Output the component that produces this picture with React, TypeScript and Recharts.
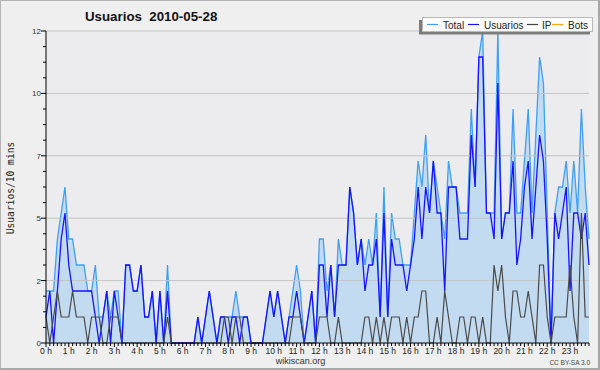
import React from 'react';
import { ComposedChart, Area, Line, XAxis, YAxis, CartesianGrid, ReferenceLine } from 'recharts';

// ---- data (10-minute slots, 2010-05-28) ----
const total = [
  2, 2, 2, 4, 5, 6, 4, 4, 3, 3,
  3, 2, 2, 3, 1, 1, 2, 1, 2, 2,
  0, 3, 3, 2, 2, 3, 1, 1, 2, 0,
  2, 0, 3, 0, 0, 0, 0, 0, 0, 0,
  1, 0, 1, 2, 1, 0, 1, 1, 1, 1,
  2, 1, 1, 1, 0, 0, 0, 0, 1, 2,
  1, 2, 1, 0, 1, 2, 3, 2, 0, 1,
  2, 0, 4, 4, 2, 3, 1, 4, 3, 3,
  6, 5, 3, 4, 3, 4, 3, 5, 1, 6,
  1, 5, 4, 4, 3, 3, 3, 5, 7, 6,
  8, 5, 7, 6, 5, 4, 7, 6, 6, 5,
  5, 5, 9, 6, 11, 12, 5, 5, 5, 12,
  4, 5, 5, 9, 5, 5, 7, 9, 5, 8,
  11, 10, 5, 0, 5, 6, 6, 7, 5, 7,
  5, 9, 6, 4,
];

const usuarios = [
  1, 2, 0, 2, 4, 5, 3, 2, 2, 2,
  2, 2, 2, 1, 0, 1, 2, 0, 2, 1,
  0, 3, 3, 2, 2, 3, 1, 1, 2, 0,
  2, 0, 2, 0, 0, 0, 0, 0, 0, 0,
  1, 0, 1, 2, 1, 0, 1, 1, 0, 1,
  1, 0, 1, 1, 0, 0, 0, 0, 1, 2,
  1, 2, 1, 0, 1, 1, 2, 1, 0, 1,
  2, 0, 3, 3, 1, 3, 1, 3, 3, 3,
  6, 5, 3, 4, 2, 3, 3, 4, 1, 5,
  1, 4, 3, 3, 3, 2, 3, 4, 6, 4,
  6, 5, 7, 5, 5, 2, 6, 6, 6, 4,
  4, 4, 8, 6, 11, 11, 5, 5, 4, 10,
  4, 5, 5, 7, 3, 4, 6, 7, 4, 6,
  8, 7, 4, 0, 5, 4, 5, 6, 2, 5,
  5, 4, 5, 3,
];

const ip = [
  1, 0, 1, 2, 1, 1, 1, 2, 1, 1,
  1, 0, 1, 1, 1, 0, 0, 1, 1, 1,
  0, 0, 0, 0, 0, 0, 0, 0, 0, 0,
  0, 0, 1, 0, 0, 0, 0, 0, 0, 0,
  0, 0, 0, 0, 0, 0, 0, 1, 1, 0,
  1, 1, 0, 0, 0, 0, 0, 0, 0, 0,
  0, 0, 0, 0, 0, 1, 1, 1, 0, 0,
  0, 0, 1, 1, 1, 0, 0, 1, 0, 0,
  0, 0, 0, 0, 1, 1, 0, 1, 0, 1,
  0, 1, 1, 1, 0, 1, 0, 1, 1, 2,
  2, 0, 0, 1, 0, 2, 1, 0, 0, 1,
  1, 0, 1, 1, 0, 1, 0, 0, 3, 2,
  3, 1, 0, 2, 2, 1, 1, 2, 1, 0,
  3, 3, 1, 0, 1, 1, 1, 1, 3, 1,
  0, 5, 1, 1,
];

const bots: number[] = total.map(() => 0);

const hourLabels = [
  '0 h', '1 h', '2 h', '3 h', '4 h', '5 h', '6 h', '7 h', '8 h', '9 h', '10 h', '11 h',
  '12 h', '13 h', '14 h', '15 h', '16 h', '17 h', '18 h', '19 h', '20 h', '21 h', '22 h', '23 h',
];

const yMajorTicks = [0, 2.4, 4.8, 7.2, 9.6, 12];
const yMajorLabels = ['0', '2', '5', '7', '10', '12'];

const legendItems = [
  { name: 'Total', color: '#3f9ff5' },
  { name: 'Usuarios', color: '#1414ff' },
  { name: 'IP', color: '#444444' },
  { name: 'Bots', color: '#ffa31a' },
];

const data = total.map((t, i) => ({
  i,
  total: t,
  usuarios: usuarios[i],
  ip: ip[i],
  bots: bots[i],
}));

const xTicks = data.map((d) => d.i);
const yMinorTicks: number[] = [];
for (let k = 0; k < yMajorTicks.length - 1; k++) {
  const a = yMajorTicks[k];
  const b = yMajorTicks[k + 1];
  for (let j = 0; j < 4; j++) yMinorTicks.push(+(a + ((b - a) * j) / 4).toFixed(3));
}
yMinorTicks.push(yMajorTicks[yMajorTicks.length - 1]);

const SANS = '"Liberation Sans", Arial, sans-serif';

const XTick = (props: any) => {
  const { x, y, payload } = props;
  const v = payload.value as number;
  const isHour = v % 6 === 0;
  return (
    <g>
      <line x1={x} x2={x} y1={y} y2={y + (isHour ? 4 : 3)} stroke="#000" strokeWidth={1} />
      {isHour && (
        <text x={x} y={y + 11} textAnchor="middle" fontSize={8.5} fontFamily={SANS} fill="#222">
          {hourLabels[v / 6]}
        </text>
      )}
    </g>
  );
};

const YTick = (props: any) => {
  const { x, y, payload } = props;
  const v = payload.value as number;
  const mi = yMajorTicks.findIndex((m) => Math.abs(m - v) < 1e-6);
  const major = mi >= 0;
  return (
    <g>
      <line x1={x - (major ? 5 : 3)} x2={x} y1={y} y2={y} stroke="#000" strokeWidth={1} />
      {major && (
        <text x={x - 5} y={y + 3} textAnchor="end" fontSize={8} fontFamily={SANS} fill="#333">
          {yMajorLabels[mi]}
        </text>
      )}
    </g>
  );
};

export default function App() {
  return (
    <div style={{ position: 'absolute', left: 0, top: 0, width: 600, height: 370, background: '#efefef', overflow: 'hidden' }}>
      <div style={{ position: 'absolute', left: 0, top: 0 }}>
        <ComposedChart
          width={600}
          height={370}
          data={data}
          margin={{ top: 31, right: 11, bottom: 0, left: 0 }}
        >
          <CartesianGrid fill="#ececee" horizontal={false} vertical={false} stroke="none" />
          <XAxis
            dataKey="i"
            type="number"
            domain={[0, 143]}
            ticks={xTicks}
            interval={0}
            height={27}
            tickSize={0}
            tickMargin={0}
            tickLine={false}
            axisLine={{ stroke: '#000', strokeWidth: 1 }}
            tick={XTick}
          />
          <YAxis
            type="number"
            domain={[0, 12]}
            ticks={yMinorTicks}
            interval={0}
            width={46}
            tickSize={0}
            tickMargin={0}
            tickLine={false}
            axisLine={{ stroke: '#000', strokeWidth: 1 }}
            tick={YTick}
          />
          <Area
            type="linear"
            dataKey="total"
            stroke="#3f9ff5"
            strokeWidth={1.3}
            fill="#c3dbf0"
            fillOpacity={1}
            dot={false}
            activeDot={false}
            isAnimationActive={false}
          />
          {yMajorTicks.slice(1).map((t) => (
            <ReferenceLine key={t} y={t} stroke="#c4c4c4" strokeWidth={1} />
          ))}
          <Line
            type="linear"
            dataKey="usuarios"
            stroke="#1414ff"
            strokeWidth={1.3}
            dot={false}
            activeDot={false}
            isAnimationActive={false}
          />
          <Line
            type="linear"
            dataKey="ip"
            stroke="#4a4a4a"
            strokeWidth={1.2}
            dot={false}
            activeDot={false}
            isAnimationActive={false}
          />
        </ComposedChart>
      </div>
      <svg
        width={600}
        height={370}
        style={{ position: 'absolute', left: 0, top: 0, pointerEvents: 'none' }}
      >
        <text x={85} y={21} fontSize={13.3} fontWeight="bold" fontFamily={SANS} fill="#111" style={{ whiteSpace: 'pre' }}>
          {'Usuarios  2010-05-28'}
        </text>
        <text
          x={0}
          y={0}
          transform="translate(13.5,188) rotate(-90)"
          textAnchor="middle"
          fontSize={9.6}
          fontFamily='"DejaVu Sans Mono", monospace'
          fill="#222"
        >
          Usuarios/10 mins
        </text>
        {/* legend */}
        <rect x={419} y={20} width={171} height={14.5} fill="#7c7c7c" />
        <rect x={422.5} y={17.5} width={170} height={14} fill="#fcfcfc" stroke="#b8b8b8" strokeWidth={1} />
        {legendItems.map((it, k) => {
          const xs = [427, 468, 527, 552][k];
          const ts = [443, 484, 542, 568][k];
          return (
            <g key={it.name}>
              <line x1={xs} x2={xs + 11} y1={24.5} y2={24.5} stroke={it.color} strokeWidth={1.2} />
              <text x={ts} y={28.5} fontSize={10} fontFamily={SANS} fill="#222">
                {it.name}
              </text>
            </g>
          );
        })}
        <text x={300.5} y={363.5} textAnchor="middle" fontSize={9} fontFamily={SANS} fill="#333">
          wikiscan.org
        </text>
        <text x={590} y={365} textAnchor="end" fontSize={6.5} fontFamily={SANS} fill="#444">
          CC BY-SA 3.0
        </text>
      </svg>
      <div
        style={{
          position: 'absolute',
          left: 0,
          top: 0,
          width: 600,
          height: 370,
          boxSizing: 'border-box',
          borderLeft: '1px solid #b4b4b4',
          borderTop: '1px solid #b4b4b4',
          borderRight: '2px solid #a8a8a8',
          borderBottom: '2px solid #a8a8a8',
          pointerEvents: 'none',
        }}
      />
    </div>
  );
}
